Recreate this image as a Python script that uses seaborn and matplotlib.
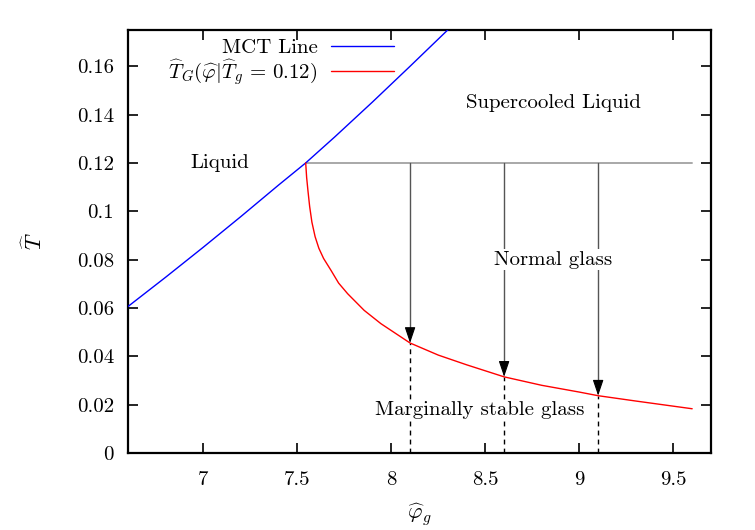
import numpy as np
import pandas as pd
import matplotlib.pyplot as plt
import seaborn as sns

# MCT line (blue)
mct_phi = [6.6, 6.8, 7.0, 7.2, 7.4, 7.545, 7.7, 7.9, 8.1, 8.3, 8.36]
mct_T = [0.0606, 0.0727, 0.0851, 0.0978, 0.1108, 0.1200, 0.1308, 0.1452, 0.1600, 0.1750, 0.1795]

# T_G(phi | T_g = 0.12) (red)
tg_phi = [7.545, 7.55, 7.557, 7.566, 7.578, 7.595, 7.615, 7.64, 7.68, 7.72, 7.768, 7.856, 7.945, 8.1, 8.25,
          8.4, 8.6, 8.8, 9.0, 9.1, 9.3, 9.45, 9.6]
tg_T = [0.1200, 0.1140, 0.1085, 0.1020, 0.0955, 0.0895, 0.0847, 0.0805, 0.0755, 0.0703, 0.0659, 0.0590, 0.0535, 0.0455, 0.0405,
        0.0365, 0.0315, 0.0280, 0.0252, 0.0237, 0.0215, 0.0199, 0.0183]

# quench protocols
quench_phi = [8.1, 8.6, 9.1]
quench_T = [0.0455, 0.0315, 0.0237]
T_g = 0.12
plateau_phi = [7.545, 9.6]

xticks = [7, 7.5, 8, 8.5, 9, 9.5]
xtick_labels = ["7", "7.5", "8", "8.5", "9", "9.5"]
yticks = [0, 0.02, 0.04, 0.06, 0.08, 0.1, 0.12, 0.14, 0.16]
ytick_labels = ["0", "0.02", "0.04", "0.06", "0.08", "0.1", "0.12", "0.14", "0.16"]

sns.set_style("ticks")
plt.rcParams['font.family'] = ['cmr10', 'DejaVu Serif']
plt.rcParams['mathtext.fontset'] = 'cm'
plt.rcParams['axes.unicode_minus'] = False
plt.rcParams['font.size'] = 15
for k in ['text.color', 'axes.labelcolor', 'xtick.color', 'ytick.color']:
    plt.rcParams[k] = 'black'

fig = plt.figure(figsize=(7.55, 5.3), dpi=100)
ax = fig.add_axes([0.1695, 0.1453, 0.7722, 0.7981])

df_mct = pd.DataFrame({"phi": mct_phi, "T": mct_T})
df_tg = pd.DataFrame({"phi": tg_phi, "T": tg_T})

# plateau at T_g
ax.plot(plateau_phi, [T_g, T_g], color="#a8a8a8", lw=1.4, zorder=1)

# quench lines + arrowheads
for x, y in zip(quench_phi, quench_T):
    ax.plot([x, x], [T_g, y + 0.004], color="#555555", lw=1.0, zorder=2)
    ax.annotate("", xy=(x, y), xytext=(x, y + 0.005),
                arrowprops=dict(arrowstyle="-|>,head_length=0.65,head_width=0.22",
                                color="black", lw=0.8, shrinkA=0, shrinkB=0),
                zorder=3)
    ax.plot([x, x], [0, y], color="black", lw=1.0, ls=(0, (3.5, 3)), zorder=2)

sns.lineplot(data=df_mct, x="phi", y="T", color="blue", lw=1.0, ax=ax,
             label="MCT Line", sort=False, zorder=4)
sns.lineplot(data=df_tg, x="phi", y="T", color="red", lw=1.0, ax=ax,
             label=r"$\widehat{T}_G(\widehat{\varphi}|\widehat{T}_g\,=\,0.12)$", sort=False, zorder=4)

ax.text(7.09, 0.12, "Liquid", ha="center", va="center")
ax.text(8.86, 0.145, "Supercooled Liquid", ha="center", va="center")
ax.text(8.86, 0.08, "Normal glass", ha="center", va="center",
        bbox=dict(facecolor="white", edgecolor="none", pad=1))
ax.text(8.47, 0.0178, "Marginally stable glass", ha="center", va="center",
        bbox=dict(facecolor="white", edgecolor="none", pad=1))

ax.set_xlim(6.6, 9.7)
ax.set_ylim(0, 0.175)
ax.set_xticks(xticks)
ax.set_xticklabels(xtick_labels)
ax.set_yticks(yticks)
ax.set_yticklabels(ytick_labels)
ax.tick_params(direction="in", length=7, width=1.2, top=True, right=True,
               labelsize=15, pad=10)
ax.tick_params(axis="x", pad=13)
for s in ax.spines.values():
    s.set_linewidth(1.6)
    s.set_color("black")

ax.set_xlabel(r"$\widehat{\varphi}_g$", fontsize=16, labelpad=9)
ax.set_ylabel(r"$\widehat{T}$", fontsize=16, labelpad=22)

leg = ax.legend(loc="upper right", bbox_to_anchor=(0.4597, 0.985), markerfirst=False,
                frameon=False, borderpad=0.1, borderaxespad=0, handlelength=3.0,
                handletextpad=0.65, labelspacing=0.0, fontsize=15)

fig.savefig("out.png", dpi=100)
